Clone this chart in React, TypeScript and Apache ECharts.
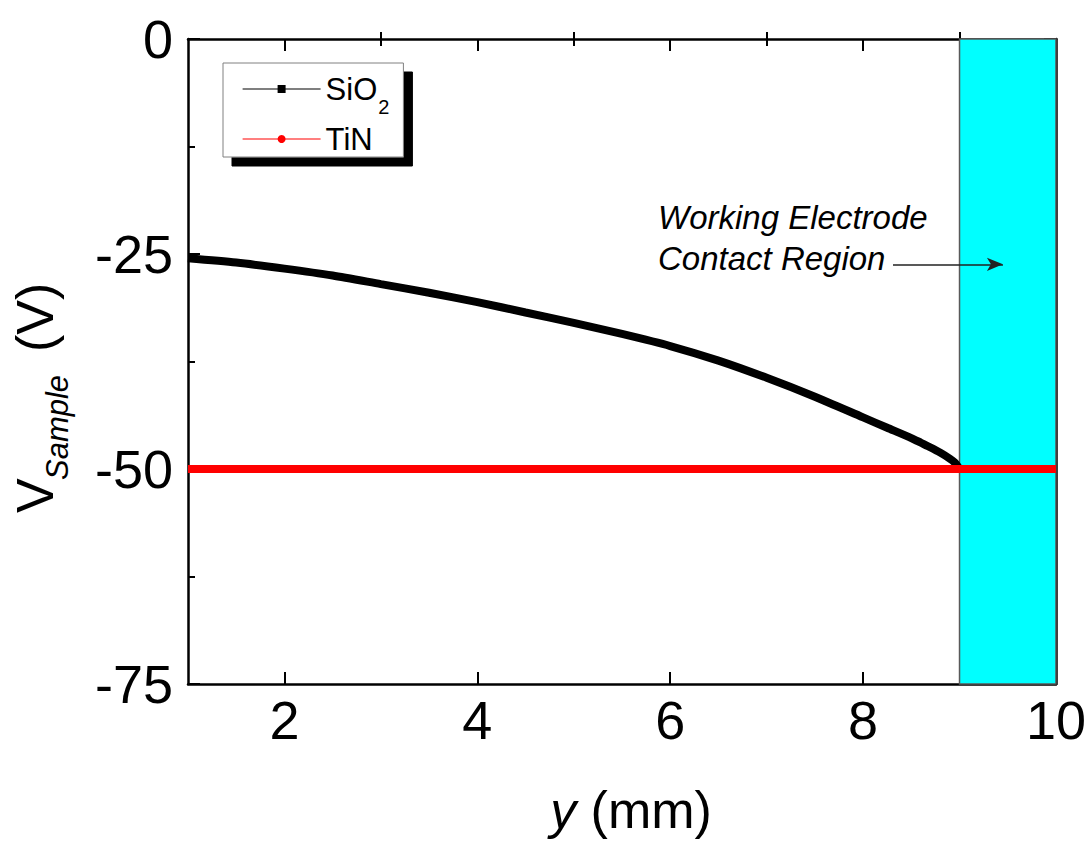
import React, { useEffect, useRef } from "react";
import * as echarts from "echarts";

// Sample potential along the sample (mm) for the two surfaces
const positions = [1, 1.5, 2, 2.5, 3, 3.5, 4, 4.5, 5, 5.5, 6, 6.5, 7, 7.5, 8, 8.25, 8.5, 8.6, 8.7, 8.8, 8.9, 8.95, 9];
const sio2Volts = [-25.5, -26.0, -26.7, -27.5, -28.5, -29.5, -30.6, -31.8, -33.0, -34.3, -35.7, -37.4, -39.4, -41.6, -44.0, -45.2, -46.4, -46.95, -47.5, -48.1, -48.8, -49.25, -50];
const tinPositions = [1, 10];
const tinVolts = [-50, -50];

// Working-electrode contact band and its pointer
const contactRegion = [9, 10];
const arrowFrom = [8.31, -26.2];
const arrowTo = [9.45, -26.2];

// Axis ticks
const xLabelValues = [2, 4, 6, 8, 10];
const xMajorTicks = [2, 4, 6, 8];
const xMinorTicks = [3, 5, 7, 9];
const yRange = [-75, 0];
const yStep = 25;

const FONT = "'Liberation Sans', Arial, sans-serif";

export default function App() {
  const ref = useRef<HTMLDivElement>(null);

  useEffect(() => {
    if (!ref.current) return;
    const chart = echarts.init(ref.current, undefined, { renderer: "svg" });

    const frame = { show: true, onZero: false, lineStyle: { color: "#000", width: 2.5 } };
    const majorTick = { show: true, inside: true, length: 12, lineStyle: { color: "#000", width: 2 } };
    const minorTick = { show: true, inside: true, length: 7, lineStyle: { color: "#000", width: 2 } };

    const xBase = {
      type: "value" as const,
      min: 1,
      max: 10,
      interval: 1,
      splitLine: { show: false },
    };

    const yBase = {
      type: "value" as const,
      min: yRange[0],
      max: yRange[1],
      interval: yStep,
      splitLine: { show: false },
      axisLine: frame,
      axisTick: majorTick,
      minorTick: { show: true, splitNumber: 2, length: 7, lineStyle: { color: "#000", width: 2 } },
      minorSplitLine: { show: false },
    };

    chart.setOption({
      animation: false,
      backgroundColor: "#fff",
      grid: { left: 188, top: 39, right: 33, bottom: 159, containLabel: false },
      xAxis: [
        {
          ...xBase,
          position: "bottom",
          axisLine: frame,
          axisTick: { ...majorTick, customValues: xMajorTicks },
          axisLabel: {
            customValues: xLabelValues,
            margin: 9,
            fontSize: 54,
            fontFamily: FONT,
            color: "#000",
          },
          name: "{i|y} (mm)",
          nameLocation: "middle",
          nameGap: 126,
          nameTextStyle: {
            fontSize: 52,
            fontFamily: FONT,
            color: "#000",
            verticalAlign: "middle",
            padding: [0, 0, 0, 18],
            rich: {
              i: { fontSize: 52, fontFamily: FONT, fontStyle: "italic", color: "#000" },
            },
          },
        },
        {
          ...xBase,
          position: "bottom",
          axisLine: { show: false },
          axisTick: { ...minorTick, customValues: xMinorTicks },
          axisLabel: { show: false },
        },
        {
          ...xBase,
          position: "top",
          axisLine: frame,
          axisTick: { ...majorTick, customValues: xMajorTicks },
          axisLabel: { show: false },
        },
        {
          ...xBase,
          position: "top",
          axisLine: { show: false },
          axisTick: { ...minorTick, customValues: xMinorTicks },
          axisLabel: { show: false },
        },
      ],
      yAxis: [
        {
          ...yBase,
          position: "left",
          axisLabel: { margin: 15, fontSize: 54, fontFamily: FONT, color: "#000" },
        },
        {
          ...yBase,
          position: "right",
          axisLabel: { show: false },
        },
      ],
      legend: {
        orient: "vertical",
        left: 223,
        top: 63,
        padding: [8, 14, 0, 19],
        itemGap: 4,
        itemWidth: 78,
        itemHeight: 10,
        selectedMode: false,
        backgroundColor: "#fff",
        borderColor: "#808080",
        borderWidth: 1,
        borderRadius: 0,
        shadowColor: "#000",
        shadowBlur: 0,
        shadowOffsetX: 9,
        shadowOffsetY: 9,
        lineStyle: { width: 1.2 },
        data: ["SiO2", "TiN"],
        formatter: (name: string) => (name === "SiO2" ? "SiO{sub|2}" : name),
        textStyle: {
          fontSize: 31,
          fontFamily: FONT,
          color: "#000",
          lineHeight: 36,
          rich: {
            sub: {
              fontSize: 20,
              fontFamily: FONT,
              color: "#000",
              verticalAlign: "bottom",
              padding: [0, 0, -10, 1],
            },
          },
        },
      },
      series: [
        {
          name: "SiO2",
          type: "line",
          xAxisIndex: 0,
          yAxisIndex: 0,
          data: positions.map((x, i) => [x, sio2Volts[i]]),
          symbol: "rect",
          showSymbol: false,
          smooth: 0.25,
          color: "#000",
          lineStyle: { color: "#000", width: 8 },
          itemStyle: { color: "#000" },
          z: 3,
          markArea: {
            silent: true,
            itemStyle: { color: "#00FFFF", borderColor: "#5a5a5a", borderWidth: 1.5 },
            data: [[{ xAxis: contactRegion[0] }, { xAxis: contactRegion[1] }]],
          },
        },
        {
          name: "TiN",
          type: "line",
          xAxisIndex: 0,
          yAxisIndex: 0,
          data: tinPositions.map((x, i) => [x, tinVolts[i]]),
          symbol: "circle",
          showSymbol: false,
          color: "#ff0000",
          lineStyle: { color: "#ff0000", width: 8 },
          itemStyle: { color: "#ff0000" },
          z: 4,
          markLine: {
            silent: true,
            symbol: ["none", "arrow"],
            symbolSize: [10, 16],
            label: { show: false },
            lineStyle: { color: "#222", width: 1.5, type: "solid" },
            data: [[{ coord: arrowFrom }, { coord: arrowTo }]],
          },
        },
      ],
      graphic: [
        {
          type: "group",
          x: 35,
          y: 513,
          rotation: Math.PI / 2,
          children: [
            {
              type: "text",
              x: 0,
              y: 0,
              style: { text: "V", font: `52px ${FONT}`, fill: "#000", align: "left", verticalAlign: "middle" },
            },
            {
              type: "text",
              x: 33,
              y: 22,
              style: { text: "Sample", font: `italic 31px ${FONT}`, fill: "#000", align: "left", verticalAlign: "middle" },
            },
            {
              type: "text",
              x: 161,
              y: 0,
              style: { text: "(V)", font: `52px ${FONT}`, fill: "#000", align: "left", verticalAlign: "middle" },
            },
          ],
        },
        {
          type: "text",
          left: 658,
          top: 201,
          style: { text: "Working Electrode", font: `italic 33px ${FONT}`, fill: "#000" },
        },
        {
          type: "text",
          left: 658,
          top: 242,
          style: { text: "Contact Region", font: `italic 33px ${FONT}`, fill: "#000" },
        },
      ],
    });

    return () => chart.dispose();
  }, []);

  return (
    <div
      ref={ref}
      style={{ position: "fixed", left: 0, top: 0, width: 1089, height: 843, background: "#fff" }}
    />
  );
}
